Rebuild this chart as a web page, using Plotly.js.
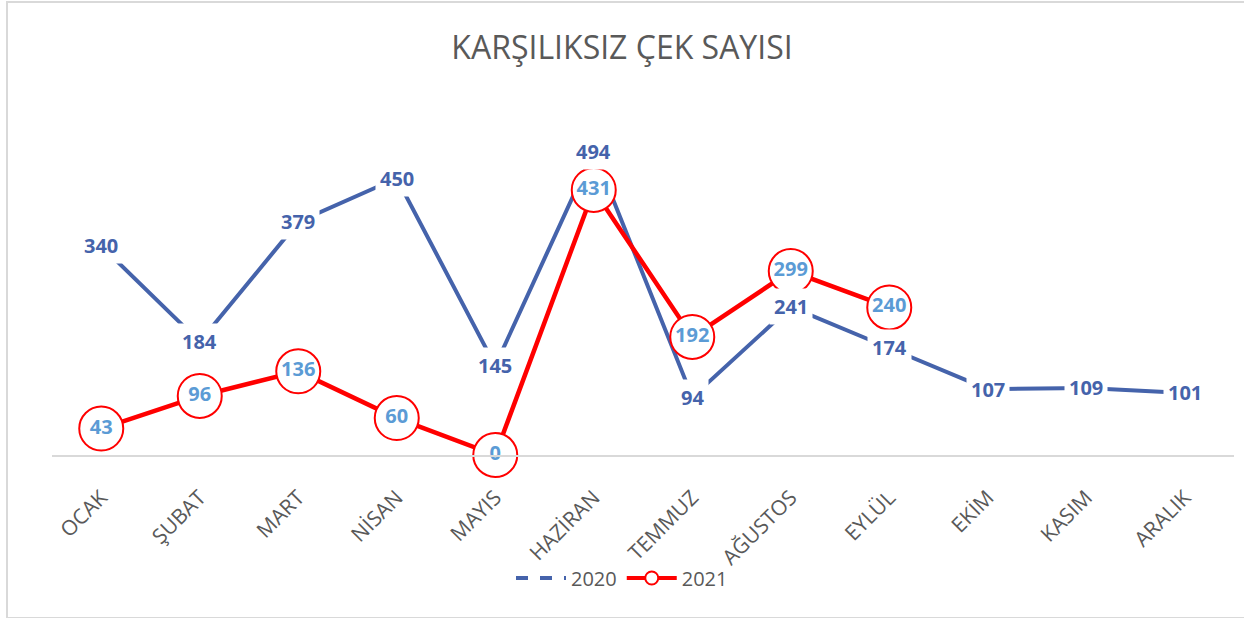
<!DOCTYPE html>
<html>
<head>
<meta charset="utf-8">
<script src="https://cdn.plot.ly/plotly-3.0.1.min.js"></script>
<style>
  html, body { margin: 0; padding: 0; background: #fff; }
  #wrap { position: relative; width: 1244px; height: 618px; overflow: hidden; }
  #chart { position: absolute; left: 0; top: 0; width: 1244px; height: 618px; }
  #frame { position: absolute; left: 6px; top: 1px; width: 1236px; height: 614px; border: 2px solid #d9d9d9; pointer-events: none; }
</style>
</head>
<body>
<div id="wrap"><div id="chart"></div><div id="frame"></div></div>
<script>
const months = ['OCAK','ŞUBAT','MART','NİSAN','MAYIS','HAZİRAN','TEMMUZ','AĞUSTOS','EYLÜL','EKİM','KASIM','ARALIK'];
const values2020 = [340,184,379,450,145,494,94,241,174,107,109,101];
const values2021 = [43,96,136,60,0,431,192,299,240];
const seriesNames = ['2020','2021'];

const blue = '#4563ab';
const red = '#ff0000';
const lightBlue = '#5b9bd5';
const gray = '#595959';
const labelFont = {family: 'Open Sans', size: 20, color: blue, weight: 700};

const months2021 = months.slice(0, values2021.length);

const traces = [
  {
    x: months, y: values2020, type: 'scatter', mode: 'lines',
    line: {color: blue, width: 4}, showlegend: false, hoverinfo: 'skip', cliponaxis: false
  },
  {
    x: months2021, y: values2021, type: 'scatter', mode: 'lines+markers+text',
    line: {color: red, width: 4.5},
    marker: {size: 44, color: '#ffffff', line: {color: red, width: 2}},
    text: values2021.map(String), textposition: 'middle center',
    textfont: {family: 'Open Sans', size: 20, color: lightBlue, weight: 700},
    showlegend: false, hoverinfo: 'skip', cliponaxis: false
  },
  {
    x: [null], y: [null], type: 'scatter', mode: 'lines', name: seriesNames[0],
    line: {color: blue, width: 4, dash: 'dash'}, showlegend: true
  },
  {
    x: [null], y: [null], type: 'scatter', mode: 'lines+markers', name: seriesNames[1],
    line: {color: red, width: 4}, marker: {size: 13, color: '#ffffff', line: {color: red, width: 2}}, showlegend: true
  }
];

const annotations = months.map((m, i) => ({
  x: m, y: values2020[i], xref: 'x', yref: 'y',
  text: String(values2020[i]), showarrow: false,
  font: labelFont, bgcolor: '#ffffff', borderpad: 4,
  xanchor: 'center', yanchor: 'middle'
}));

const layout = {
  width: 1244, height: 618,
  margin: {l: 52, r: 10, t: 86, b: 163},
  paper_bgcolor: '#ffffff', plot_bgcolor: '#ffffff',
  font: {family: 'Open Sans', color: gray},
  title: {
    text: 'KARŞILIKSIZ ÇEK SAYISI',
    font: {family: 'Open Sans', size: 32, color: gray},
    x: 0.5, xref: 'container', xanchor: 'center',
    y: 1 - 48/618, yref: 'container', yanchor: 'middle'
  },
  xaxis: {
    type: 'category', categoryorder: 'array', categoryarray: months,
    range: [-0.5, 11.5],
    showline: true, linecolor: '#d9d9d9', linewidth: 2,
    showgrid: false, zeroline: false, ticks: '',
    tickangle: -45, ticklabelstandoff: 20,
    tickfont: {family: 'Open Sans', size: 21, color: gray}
  },
  yaxis: {
    range: [0, 600], visible: false, showgrid: false, zeroline: false
  },
  showlegend: true,
  legend: {
    orientation: 'h', x: 0.5, xref: 'container', xanchor: 'center',
    y: (618 - 578) / 618, yref: 'container', yanchor: 'middle',
    font: {family: 'Open Sans', size: 20, color: gray},
    itemwidth: 50, traceorder: 'normal', bgcolor: 'rgba(0,0,0,0)'
  },
  annotations: annotations
};

Plotly.newPlot('chart', traces, layout, {displayModeBar: false, staticPlot: true});
</script>
</body>
</html>
